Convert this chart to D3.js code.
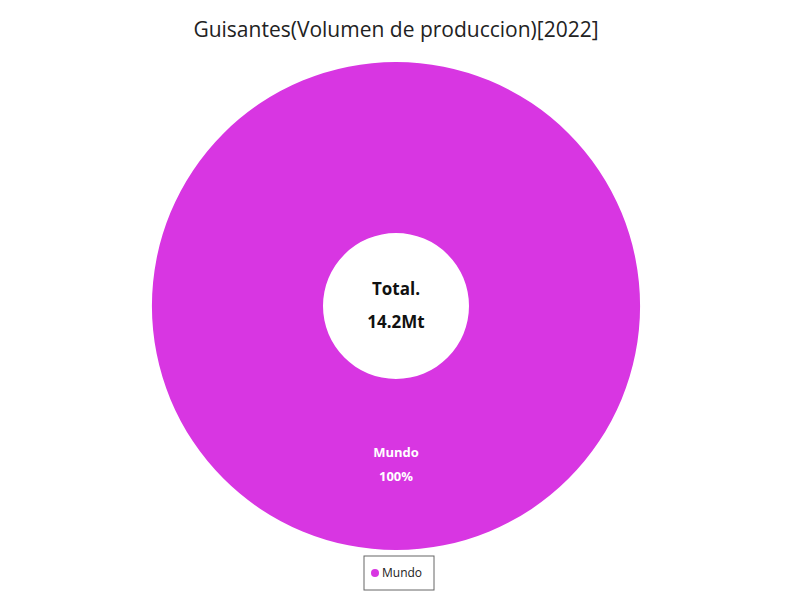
<!DOCTYPE html>
<html>
<head>
<meta charset="utf-8">
<script src="https://cdn.jsdelivr.net/npm/d3@7"></script>
<style>
  body { margin: 0; background: #fff; }
  svg { font-family: "Open Sans", "Noto Sans", sans-serif; }
</style>
</head>
<body>
<svg id="chart"></svg>
<script>
const title = 'Guisantes(Volumen de produccion)[2022]';
const categories = ['Mundo'];
const values = [14.2];
const colors = ['#d836e2'];
const centerLabel = 'Total.';
const unit = 'Mt';

const width = 800, height = 600;
const cx = 396, cy = 306;
const outerR = 244, innerR = 73;

const svg = d3.select('#chart').attr('width', width).attr('height', height);

svg.append('text')
  .attr('x', cx)
  .attr('y', 37)
  .attr('text-anchor', 'middle')
  .attr('font-size', 21)
  .attr('fill', '#222')
  .text(title);

const pie = d3.pie().sort(null).value(d => d.value);
const data = categories.map((c, i) => ({ name: c, value: values[i] }));
const arcs = pie(data);
const total = d3.sum(values);

const arc = d3.arc().innerRadius(innerR).outerRadius(outerR);
const color = d3.scaleOrdinal().domain(categories).range(colors);

const g = svg.append('g').attr('transform', `translate(${cx},${cy})`);

g.selectAll('path')
  .data(arcs)
  .join('path')
  .attr('d', arc)
  .attr('fill', d => color(d.data.name));

// slice labels: for a full circle put it below the hole like the original
const labelR = (innerR + outerR) / 2;
arcs.forEach(d => {
  let angle = (d.startAngle + d.endAngle) / 2;
  if (d.endAngle - d.startAngle >= 2 * Math.PI - 1e-6) angle = Math.PI;
  const x = Math.sin(angle) * labelR;
  const y = -Math.cos(angle) * labelR;
  const t = g.append('text')
    .attr('text-anchor', 'middle')
    .attr('fill', '#fff')
    .attr('font-weight', 'bold')
    .attr('font-size', 13);
  t.append('tspan').attr('x', x).attr('y', y - 8).text(d.data.name);
  t.append('tspan').attr('x', x).attr('y', y + 16)
    .text(d3.format('.0%')(d.value / total));
});

g.append('text')
  .attr('text-anchor', 'middle')
  .attr('y', -11)
  .attr('font-size', 17)
  .attr('font-weight', 'bold')
  .attr('fill', '#111')
  .text(centerLabel);

g.append('text')
  .attr('text-anchor', 'middle')
  .attr('y', 22)
  .attr('font-size', 17)
  .attr('font-weight', 'bold')
  .attr('fill', '#111')
  .text(d3.format('.1f')(total) + unit);

// legend
const legend = svg.append('g').attr('transform', 'translate(364,556)');
legend.append('rect')
  .attr('width', 70).attr('height', 34)
  .attr('fill', '#fff')
  .attr('stroke', '#666')
  .attr('stroke-width', 1);
categories.forEach((c, i) => {
  legend.append('circle')
    .attr('cx', 11).attr('cy', 17 + i * 18).attr('r', 4)
    .attr('fill', color(c));
  legend.append('text')
    .attr('x', 18).attr('y', 21 + i * 18)
    .attr('font-size', 12)
    .attr('fill', '#222')
    .text(c);
});
</script>
</body>
</html>
